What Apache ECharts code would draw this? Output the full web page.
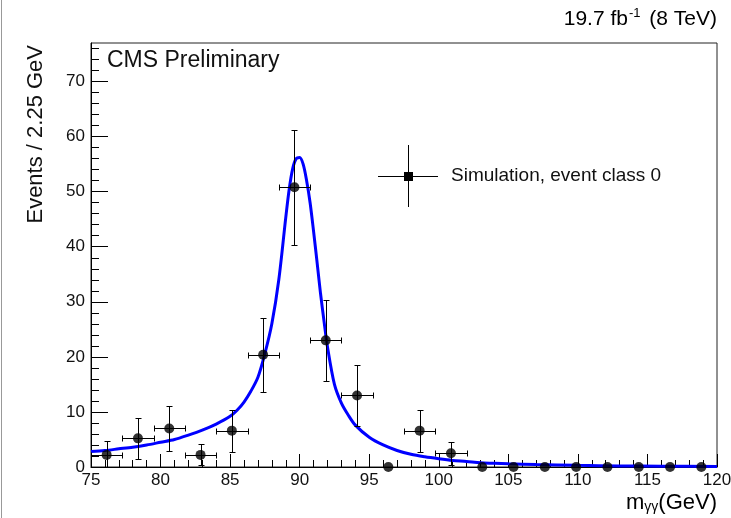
<!DOCTYPE html>
<html><head><meta charset="utf-8">
<script src="https://cdn.jsdelivr.net/npm/echarts@6/dist/echarts.min.js"></script>
<style>html,body{margin:0;padding:0;background:#fff}#c{width:731px;height:518px}</style>
</head><body><div id="c"></div>
<script>
// ---- data ----
const binCenters = [76.125, 78.375, 80.625, 82.875, 85.125, 87.375, 89.625, 91.875, 94.125, 96.375,
                    98.625, 100.875, 103.125, 105.375, 107.625, 109.875, 112.125, 114.375, 116.625, 118.875];
const binValues  = [2.2, 5.2, 7.0, 2.2, 6.6, 20.4, 50.8, 23.0, 13.0, 0,
                    6.6, 2.5, 0, 0, 0, 0, 0, 0, 0, 0];
const binErrors  = [2.5, 3.7, 4.1, 1.9, 3.8, 6.7, 10.4, 7.3, 5.5, 0,
                    3.8, 2.1, 0, 0, 0, 0, 0, 0, 0, 0];
const binWidth = 2.25;
const curveX = [75, 76, 77, 78, 79, 80, 81, 82, 83, 84, 85, 85.5, 86, 86.5, 87, 87.5, 88, 88.5, 89, 89.25,
                89.5, 89.75, 90, 90.25, 90.5, 90.75, 91, 91.25, 91.5, 91.75, 92, 92.5, 93, 93.5, 94, 95, 96, 97,
                98, 99, 100, 101, 102, 103, 104, 105, 107, 110, 113, 116, 120];
const curveY = [2.8, 3.0, 3.3, 3.6, 4.0, 4.5, 5.0, 5.8, 6.7, 7.8, 9.2, 10.3, 11.8, 13.8, 16.3, 20.6, 26.0, 34.0, 45.3, 50.5,
                54.2, 56.0, 56.2, 55.0, 52.0, 48.0, 42.8, 37.2, 31.5, 26.5, 21.8, 15.0, 11.6, 9.4, 7.6, 5.4, 4.0, 3.0,
                2.3, 1.85, 1.5, 1.2, 1.0, 0.75, 0.68, 0.58, 0.45, 0.3, 0.2, 0.14, 0.1];
const yMajorTicks = [0, 10, 20, 30, 40, 50, 60, 70];
const yMinorTicks = [0, 2, 4, 6, 8, 10, 12, 14, 16, 18, 20, 22, 24, 26, 28, 30, 32, 34, 36, 38, 40, 42, 44, 46, 48, 50,
                     52, 54, 56, 58, 60, 62, 64, 66, 68, 70, 72, 74, 76];
const xMin = 75, xMax = 120, yMax = 77;
const legendLabel = 'Simulation, event class 0';

const FONT = '"Liberation Sans", Arial, Helvetica, sans-serif';
const chart = echarts.init(document.getElementById('c'), null, {renderer: 'canvas'});

const pointData = binCenters.map((x, i) => [x, binValues[i]]);
const errData = binCenters.map((x, i) => [x, binValues[i], binErrors[i]]);
const curveData = curveX.map((x, i) => [x, curveY[i]]);

const px = v => Math.round(v) + 0.5;
function renderErr(params, api) {
  const x = api.value(0), y = api.value(1), e = api.value(2);
  if (e <= 0) return {type: 'group', children: []};
  const hw = binWidth / 2;
  const l = api.coord([x - hw, y]), r = api.coord([x + hw, y]);
  const t = api.coord([x, y + e]), b = api.coord([x, Math.max(0, y - e)]);
  const st = {stroke: '#000', lineWidth: 1};
  const cap = 3;
  const cx = px(t[0]), cy = px(l[1]);
  const lx = px(l[0]), rx = px(r[0]), ty = px(t[1]), by = px(b[1]);
  const ch = [
    {type: 'line', shape: {x1: lx, y1: cy, x2: rx, y2: cy}, style: st},
    {type: 'line', shape: {x1: lx, y1: cy - cap, x2: lx, y2: cy + cap}, style: st},
    {type: 'line', shape: {x1: rx, y1: cy - cap, x2: rx, y2: cy + cap}, style: st},
    {type: 'line', shape: {x1: cx, y1: ty, x2: cx, y2: by}, style: st},
    {type: 'line', shape: {x1: cx - cap, y1: ty, x2: cx + cap, y2: ty}, style: st}
  ];
  if (y - e > 0) ch.push({type: 'line', shape: {x1: cx - cap, y1: by, x2: cx + cap, y2: by}, style: st});
  return {type: 'group', children: ch};
}

const labelStyle = {color: '#111', fontSize: 17, fontFamily: FONT};

chart.setOption({
  animation: false,
  backgroundColor: '#fff',
  grid: {left: 91, right: 14, top: 43, bottom: 51, show: true, borderColor: '#222', borderWidth: 1,
         containLabel: false, outerBoundsMode: 'none'},
  xAxis: {
    type: 'value', min: xMin, max: xMax, interval: 5,
    axisLine: {show: true, onZero: false, lineStyle: {color: '#000', width: 1}},
    axisTick: {show: true, inside: true, length: 13, lineStyle: {color: '#000'}},
    minorTick: {show: true, splitNumber: 5, length: 7, lineStyle: {color: '#000'}},
    splitLine: {show: false},
    axisLabel: Object.assign({margin: 5, showMinLabel: true, showMaxLabel: true}, labelStyle)
  },
  yAxis: [{
    type: 'value', min: 0, max: yMax,
    axisLine: {show: true, lineStyle: {color: '#000', width: 1}},
    axisTick: {show: true, inside: true, length: 17, customValues: yMajorTicks, lineStyle: {color: '#000'}},
    splitLine: {show: false},
    axisLabel: Object.assign({margin: 6, customValues: yMajorTicks}, labelStyle)
  }, {
    type: 'value', min: 0, max: yMax, position: 'left',
    axisLine: {show: false},
    axisTick: {show: true, inside: true, length: 8, customValues: yMinorTicks, lineStyle: {color: '#000'}},
    splitLine: {show: false},
    axisLabel: {show: false}
  }],
  series: [{
    type: 'line', data: curveData, smooth: 0.3, showSymbol: false, symbol: 'none',
    lineStyle: {color: '#0000ff', width: 3}, z: 2, silent: true
  }, {
    type: 'custom', data: errData, renderItem: renderErr, z: 3, silent: true,
    encode: {x: 0, y: 1}
  }, {
    type: 'scatter', data: pointData, symbol: 'circle', symbolSize: 10,
    itemStyle: {color: '#000'}, z: 4, silent: true
  }],
  graphic: [
    {type: 'line', shape: {x1: 1.5, y1: 0, x2: 1.5, y2: 518}, style: {stroke: '#999', lineWidth: 1}},
    {type: 'text', x: 107, y: 61, style: {text: 'CMS Preliminary', font: '23px ' + FONT, fill: '#111',
      textVerticalAlign: 'middle'}},
    {type: 'text', x: 717, y: 19, style: {
      text: '{a|19.7 fb}{s|-1}{a| (8 TeV)}', align: 'right', verticalAlign: 'middle',
      rich: {a: {fontSize: 21, fontFamily: FONT, color: '#111'},
             s: {fontSize: 13, fontFamily: FONT, color: '#111', padding: [0, 3, 11, 1]}}}},
    {type: 'text', x: 36, y: 45, rotation: Math.PI / 2, style: {
      text: 'Events / 2.25 GeV', font: '22px ' + FONT, fill: '#111', align: 'right', verticalAlign: 'middle'}},
    {type: 'text', x: 717, y: 503, style: {
      text: '{a|m}{s|γγ}{a|(GeV)}', align: 'right', verticalAlign: 'middle',
      rich: {a: {fontSize: 22, fontFamily: FONT, color: '#111'},
             s: {fontSize: 14, fontFamily: FONT, color: '#111', padding: [9, 0, 0, 0]}}}},
    {type: 'line', shape: {x1: 378, y1: 176.5, x2: 438, y2: 176.5}, style: {stroke: '#000', lineWidth: 1}},
    {type: 'line', shape: {x1: 408.5, y1: 145, x2: 408.5, y2: 207}, style: {stroke: '#000', lineWidth: 1}},
    {type: 'rect', shape: {x: 404, y: 172, width: 9, height: 9}, style: {fill: '#000'}},
    {type: 'text', x: 451, y: 176, style: {text: legendLabel, font: '19px ' + FONT, fill: '#111',
      textVerticalAlign: 'middle'}}
  ]
});
</script></body></html>
